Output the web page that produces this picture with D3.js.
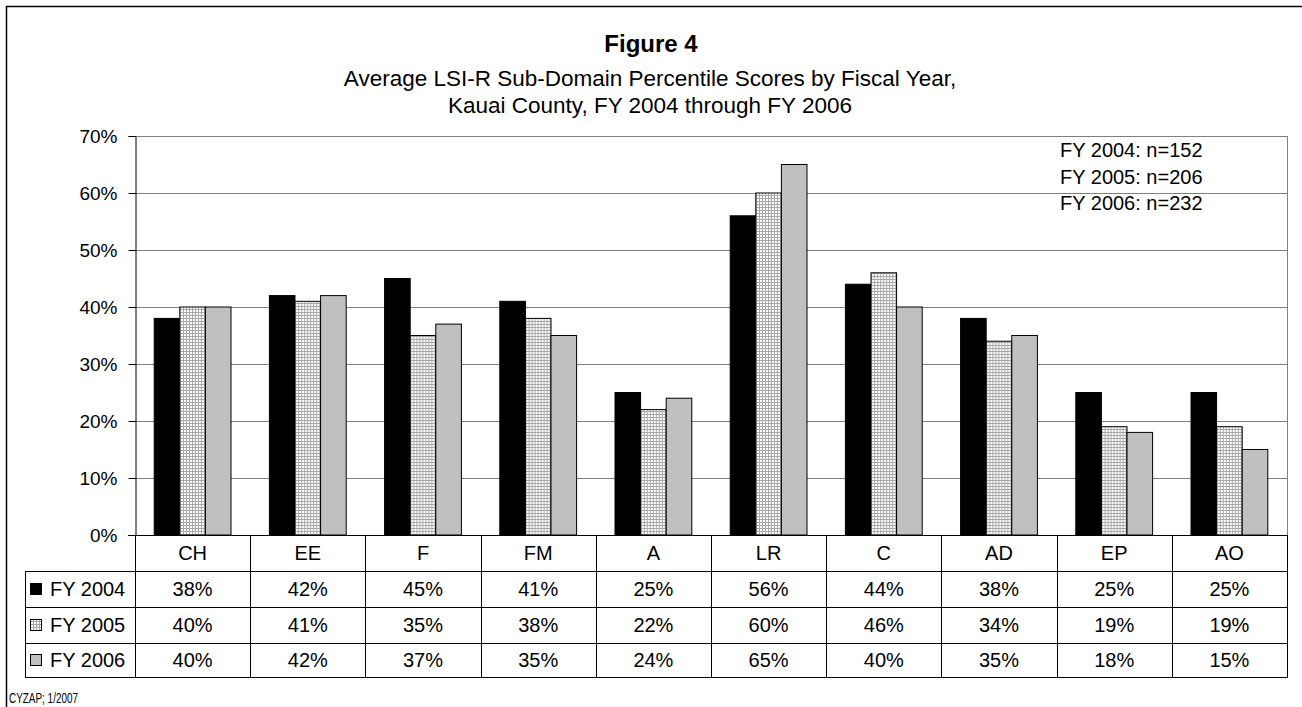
<!DOCTYPE html>
<html>
<head>
<meta charset="utf-8">
<script src="https://cdn.jsdelivr.net/npm/d3@7"></script>
<style>
  body { margin: 0; background: #fff; }
  svg { display: block; font-family: "Liberation Sans", Arial, sans-serif; }
</style>
</head>
<body>
<div id="chart"></div>
<script>
// Data
const categories = ["CH", "EE", "F", "FM", "A", "LR", "C", "AD", "EP", "AO"];
const seriesNames = ["FY 2004", "FY 2005", "FY 2006"];
const fy2004 = [38, 42, 45, 41, 25, 56, 44, 38, 25, 25];
const fy2005 = [40, 41, 35, 38, 22, 60, 46, 34, 19, 19];
const fy2006 = [40, 42, 37, 35, 24, 65, 40, 35, 18, 15];
const sampleNotes = ["FY 2004: n=152", "FY 2005: n=206", "FY 2006: n=232"];
const yTicks = [0, 10, 20, 30, 40, 50, 60, 70];

const seriesValues = [fy2004, fy2005, fy2006];

// Layout
const width = 1302;
const height = 707;
const plotLeft = 135;
const plotRight = 1287;
const plotTop = 136;
const plotBottom = 535;
const tableLeft = 25;
const rowLines = [535, 571, 607, 643, 677];

const svg = d3.select("#chart").append("svg")
  .attr("width", width)
  .attr("height", height)
  .attr("viewBox", [0, 0, width, height]);

// dotted fill for FY 2005
const defs = svg.append("defs");
const pat = defs.append("pattern")
  .attr("id", "dots")
  .attr("patternUnits", "userSpaceOnUse")
  .attr("width", 3)
  .attr("height", 3);
pat.append("rect").attr("width", 3).attr("height", 3).attr("fill", "#a8a8a8");
pat.append("rect").attr("x", 1).attr("y", 1).attr("width", 2).attr("height", 2).attr("fill", "#fff");

const fills = ["#000", "url(#dots)", "#c0c0c0"];

// Scales
const x0 = d3.scaleBand(categories, [plotLeft, plotRight]);
const barW = x0.step() / 4.5; // gap width 150%
const x1 = d3.scaleBand(d3.range(3), [barW * 0.75, barW * 3.75]);
const y = d3.scaleLinear([0, 70], [plotBottom, plotTop]);

// Outer frame (runs off the right and bottom edges)
svg.append("rect")
  .attr("x", 6.5).attr("y", 6.5)
  .attr("width", 1400).attr("height", 800)
  .attr("fill", "none")
  .attr("stroke", "#000")
  .attr("stroke-width", 1.5);

// Titles
svg.append("text")
  .attr("x", 651).attr("y", 52)
  .attr("text-anchor", "middle")
  .attr("font-size", 24)
  .attr("font-weight", "bold")
  .text("Figure 4");

svg.append("text")
  .attr("x", 650).attr("y", 86)
  .attr("text-anchor", "middle")
  .attr("font-size", 22.5)
  .text("Average LSI-R Sub-Domain Percentile Scores by Fiscal Year,");

svg.append("text")
  .attr("x", 650).attr("y", 113)
  .attr("text-anchor", "middle")
  .attr("font-size", 22.5)
  .text("Kauai County, FY 2004 through FY 2006");

// Gridlines
svg.append("g")
  .selectAll("line")
  .data(yTicks.filter(d => d > 0))
  .join("line")
  .attr("x1", plotLeft).attr("x2", plotRight)
  .attr("y1", d => Math.round(y(d)) + 0.5)
  .attr("y2", d => Math.round(y(d)) + 0.5)
  .attr("stroke", "#808080");

svg.append("line")
  .attr("x1", plotRight + 0.5).attr("x2", plotRight + 0.5)
  .attr("y1", plotTop).attr("y2", plotBottom)
  .attr("stroke", "#808080");

// Bars
const groups = svg.append("g")
  .selectAll("g")
  .data(categories)
  .join("g")
  .attr("transform", d => `translate(${x0(d)},0)`);

groups.selectAll("rect")
  .data((d, i) => seriesValues.map((vals, s) => ({s, v: vals[i]})))
  .join("rect")
  .attr("x", d => x1(d.s))
  .attr("y", d => y(d.v))
  .attr("width", x1.bandwidth())
  .attr("height", d => y(0) - y(d.v))
  .attr("fill", d => fills[d.s])
  .attr("stroke", "#000")
  .attr("stroke-width", 1);

// Y axis
const yAxis = d3.axisLeft(y)
  .tickValues(yTicks)
  .tickFormat(d => d + "%")
  .tickSize(7)
  .tickPadding(11);

svg.append("g")
  .attr("transform", `translate(${plotLeft + 0.5},0)`)
  .call(yAxis)
  .call(g => g.select(".domain").attr("stroke", "#000"))
  .call(g => g.selectAll(".tick text")
    .attr("font-family", "Liberation Sans, Arial, sans-serif")
    .attr("font-size", 19)
    .attr("fill", "#000")
    .attr("dy", "0.34em"));

// Sample size notes
svg.append("g")
  .selectAll("text")
  .data(sampleNotes)
  .join("text")
  .attr("x", 1060)
  .attr("y", (d, i) => 157 + i * 26.5)
  .attr("font-size", 20)
  .text(d => d);

// Data table
const table = svg.append("g").attr("stroke", "#000").attr("stroke-width", 1);

table.selectAll("line.h")
  .data(rowLines)
  .join("line")
  .attr("class", "h")
  .attr("x1", (d, i) => i === 0 ? plotLeft - 7 : tableLeft)
  .attr("x2", plotRight + 0.5)
  .attr("y1", d => d + 0.5)
  .attr("y2", d => d + 0.5);

const colEdges = categories.map(c => x0(c)).concat([plotRight]);
table.selectAll("line.v")
  .data(colEdges)
  .join("line")
  .attr("class", "v")
  .attr("x1", d => Math.round(d) + 0.5)
  .attr("x2", d => Math.round(d) + 0.5)
  .attr("y1", rowLines[0])
  .attr("y2", rowLines[4] + 0.5);

table.append("line")
  .attr("x1", tableLeft + 0.5).attr("x2", tableLeft + 0.5)
  .attr("y1", rowLines[1]).attr("y2", rowLines[4] + 0.5);

// category labels
svg.append("g")
  .selectAll("text")
  .data(categories)
  .join("text")
  .attr("x", d => x0(d) + x0.bandwidth() / 2)
  .attr("y", (rowLines[0] + rowLines[1]) / 2 + 7)
  .attr("text-anchor", "middle")
  .attr("font-size", 20)
  .text(d => d);

// value rows with legend keys
seriesNames.forEach((name, s) => {
  const cy = (rowLines[s + 1] + rowLines[s + 2]) / 2;
  const row = svg.append("g");
  row.append("rect")
    .attr("x", 30.5).attr("y", cy - 5.5)
    .attr("width", 11).attr("height", 11)
    .attr("fill", fills[s])
    .attr("stroke", "#000");
  row.append("text")
    .attr("x", 50).attr("y", cy + 7)
    .attr("font-size", 20)
    .text(name);
  row.selectAll("text.v")
    .data(seriesValues[s])
    .join("text")
    .attr("class", "v")
    .attr("x", (d, i) => x0(categories[i]) + x0.bandwidth() / 2)
    .attr("y", cy + 7)
    .attr("text-anchor", "middle")
    .attr("font-size", 20)
    .text(d => d + "%");
});

// Footer
svg.append("text")
  .attr("x", 9).attr("y", 703)
  .attr("font-size", 14)
  .attr("textLength", 69)
  .attr("lengthAdjust", "spacingAndGlyphs")
  .text("CYZAP; 1/2007");
</script>
</body>
</html>
